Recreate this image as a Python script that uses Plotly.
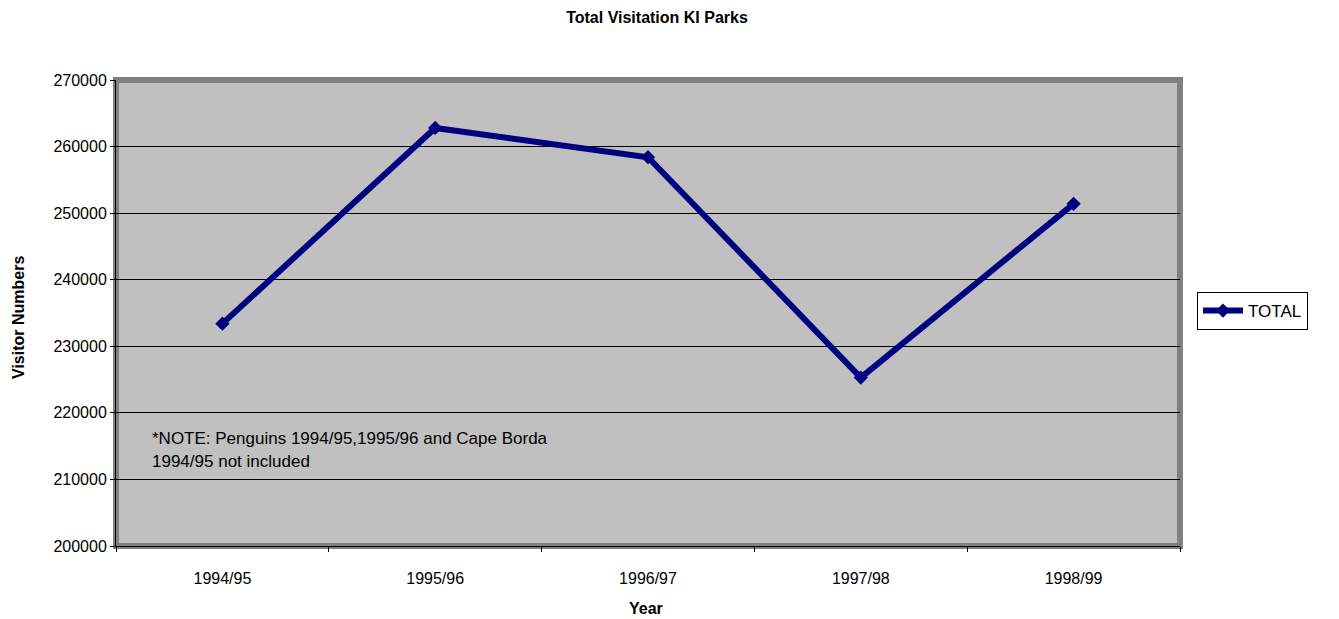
import plotly.graph_objects as go

years = ["1994/95", "1995/96", "1996/97", "1997/98", "1998/99"]
total_visitors = [233400, 262800, 258400, 225300, 251400]
y_ticks = [200000, 210000, 220000, 230000, 240000, 250000, 260000, 270000]

# page offset of plotly div (body margin)
O = 8
W, H = 1339 - O, 619 - O
L, R, T, B = 116 - O, 1180 - O, 80 - O, 546 - O
pw, ph = R - L, B - T

fig = go.Figure()
fig.add_trace(go.Scatter(
    x=years, y=total_visitors, name="TOTAL", mode="lines+markers",
    line=dict(color="#000080", width=6),
    marker=dict(symbol="diamond", size=11, color="#000080"),
))

font = "Arial, Liberation Sans, sans-serif"

def px(xp):
    return (xp - O - L) / pw

def py(yp):
    return (B - (yp - O)) / ph

fig.update_layout(
    width=W, height=H,
    margin=dict(l=L, r=W - R, t=T, b=H - B, autoexpand=False),
    paper_bgcolor="white", plot_bgcolor="#C0C0C0",
    font=dict(family=font, size=16, color="black"),
    title=dict(text="<b>Total Visitation KI Parks</b>", x=(657 - O) / W, xanchor="center",
               y=1 - (17 - O) / H, yanchor="middle", font=dict(size=16)),
    showlegend=True,
    legend=dict(x=px(1197), xanchor="left", y=py(311), yanchor="middle",
                bgcolor="white", bordercolor="black", borderwidth=1,
                font=dict(size=17), itemwidth=40),
    xaxis=dict(type="category", range=[-0.5, 4.5], showgrid=False,
               showline=True, linecolor="black", linewidth=1,
               ticks="outside", tickson="boundaries", ticklen=5, tickcolor="black",
               ticklabelstandoff=18, tickfont=dict(size=16)),
    yaxis=dict(range=[200000, 270000], tickvals=y_ticks, tickformat="d", showgrid=True,
               gridcolor="black", gridwidth=1,
               showline=True, linecolor="black", linewidth=1,
               ticks="outside", ticklen=5, tickcolor="black",
               tickfont=dict(size=16)),
    shapes=[dict(type="rect", xref="paper", yref="paper", x0=0, x1=1, y0=0, y1=1,
                 line=dict(color="#808080", width=6), fillcolor="rgba(0,0,0,0)",
                 layer="between")],
    annotations=[
        dict(text="*NOTE: Penguins 1994/95,1995/96 and Cape Borda", xref="paper", yref="paper",
             x=px(150), y=py(438), xanchor="left", yanchor="middle",
             showarrow=False, font=dict(size=17)),
        dict(text="1994/95 not included", xref="paper", yref="paper",
             x=px(150), y=py(461), xanchor="left", yanchor="middle",
             showarrow=False, font=dict(size=17)),
        dict(text="<b>Year</b>", xref="paper", yref="paper",
             x=px(646), y=py(608), xanchor="center", yanchor="middle",
             showarrow=False, font=dict(size=16)),
        dict(text="<b>Visitor Numbers</b>", xref="paper", yref="paper",
             x=px(18), y=py(318), xanchor="center", yanchor="middle", textangle=-90,
             showarrow=False, font=dict(size=16)),
    ],
)

fig.write_html("out.html")
